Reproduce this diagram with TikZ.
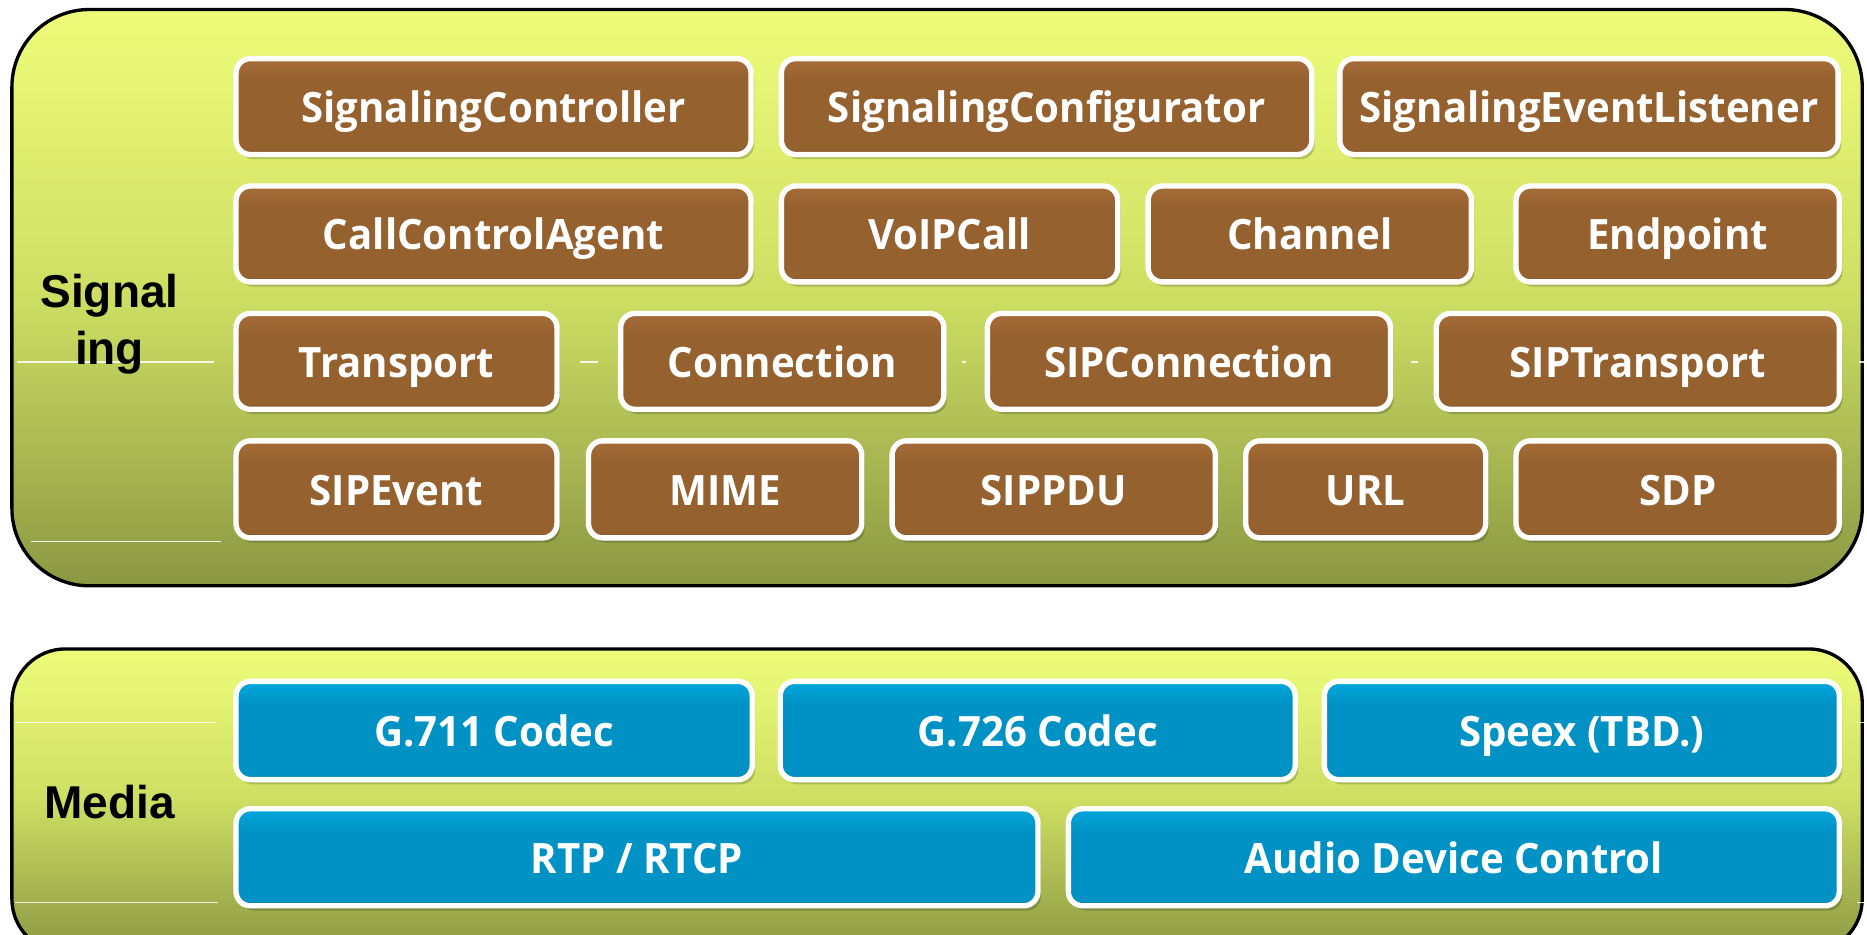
\documentclass[tikz,border=0pt]{standalone}
\usepackage{fontspec}
\setmainfont{Open Sans}
\newfontfamily\boxfont{Open Sans}[FakeStretch=0.96]
\newfontfamily\labelfont{Liberation Sans}
\usetikzlibrary{shadows}

\definecolor{brownbody}{HTML}{94612F}
\definecolor{browntop}{HTML}{A66C37}
\definecolor{brownbot}{HTML}{62401E}
\definecolor{bluebody}{HTML}{0092C4}
\definecolor{bluetop}{HTML}{00A7DE}
\definecolor{bluebot}{HTML}{005A7E}
\definecolor{olivetop}{HTML}{EEFC79}
\definecolor{olivemid}{HTML}{CDDE63}
\definecolor{olivebot}{HTML}{8B9843}

\pgfdeclareverticalshading{brownshade}{100bp}{color(0bp)=(brownbot); color(25bp)=(brownbot); color(27.5bp)=(brownbody); color(63bp)=(brownbody); color(75bp)=(browntop); color(100bp)=(browntop)}
\pgfdeclareverticalshading{blueshade}{100bp}{color(0bp)=(bluebot); color(25bp)=(bluebot); color(27.5bp)=(bluebody); color(63bp)=(bluebody); color(75bp)=(bluetop); color(100bp)=(bluetop)}

\tikzset{
  comp/.style={draw=white, line width=0.45mm, rounded corners=1.2mm, inner sep=0pt,
    text=white, font=\boxfont\bfseries\fontsize{10}{12}\selectfont, text height=2.65mm, text depth=0pt,
    drop shadow={shadow xshift=0.25mm, shadow yshift=-0.4mm, fill=black, opacity=0.18}},
  sigbox/.style={comp, shading=brownshade},
  medbox/.style={comp, shading=blueshade},
  layer/.style={draw=black, line width=0.28mm, top color=olivetop, bottom color=olivebot, middle color=olivemid},
  lbl/.style={font=\labelfont\bfseries\fontsize{11}{13.6}\selectfont, align=center, inner sep=0pt, text=black},
  artline/.style={draw=white, line width=0.1mm, opacity=0.85}
}

\newcommand\compbox[7]{\node[#1, minimum width={(#5-#3)*0.1mm-0.45mm}, minimum height={(#6-#4)*0.1mm-0.45mm}] (#2) at ({(#3+#5)/2},{(#4+#6)/2}) {#7};}

\begin{document}
\begin{tikzpicture}[x=0.1mm, y=-0.1mm]
\useasboundingbox (0,0) rectangle (1568,785);
\clip (0,0) rectangle (1568,785);

% layers
\draw[layer, rounded corners=6.5mm] (10,8) rectangle (1564,492);
\draw[layer, rounded corners=4.5mm] (10,545) rectangle (1564,800);

% faint white lines
\draw[artline] (14,304) -- (180,304);
\draw[artline] (487,304) -- (502,304);
\draw[artline] (808,304) -- (811,304);
\draw[artline] (1185,304) -- (1191,304);
\draw[artline] (1561,304) -- (1568,304);
\draw[artline] (26,455) -- (186,455);
\draw[artline] (13,607) -- (182,607);
\draw[artline] (1560,607) -- (1568,607);
\draw[artline] (13,758) -- (183,758);
\draw[artline] (1560,758) -- (1568,758);

% labels
\node[lbl] (siglabel) at (92,272) {Signal\\ing};
\node[lbl, anchor=base] (medlabel) at (92,687) {Media};

% Signaling row 1
\compbox{sigbox}{sc}{196}{47}{633}{132}{SignalingController}
\compbox{sigbox}{scfg}{654}{47}{1104}{132}{SignalingConfigurator}
\compbox{sigbox}{sel}{1123}{47}{1546}{132}{SignalingEventListener}
% row 2
\compbox{sigbox}{cca}{196}{154}{633}{239}{CallControlAgent}
\compbox{sigbox}{voip}{654}{154}{941}{239}{VoIPCall}
\compbox{sigbox}{chan}{962}{154}{1238}{239}{Channel}
\compbox{sigbox}{endp}{1271}{154}{1547}{239}{Endpoint}
% row 3
\compbox{sigbox}{trans}{196}{261}{470}{346}{Transport}
\compbox{sigbox}{conn}{519}{261}{795}{346}{Connection}
\compbox{sigbox}{sipconn}{827}{261}{1170}{346}{SIPConnection}
\compbox{sigbox}{siptrans}{1204}{261}{1547}{346}{SIPTransport}
% row 4
\compbox{sigbox}{sipev}{196}{368}{470}{454}{SIPEvent}
\compbox{sigbox}{mime}{492}{368}{726}{454}{MIME}
\compbox{sigbox}{sippdu}{747}{368}{1023}{454}{SIPPDU}
\compbox{sigbox}{url}{1044}{368}{1250}{454}{URL}
\compbox{sigbox}{sdp}{1271}{368}{1547}{454}{SDP}

% Media
\compbox{medbox}{g711}{196}{570}{634}{657}{G.711 Codec}
\compbox{medbox}{g726}{653}{570}{1090}{657}{G.726 Codec}
\compbox{medbox}{speex}{1110}{570}{1547}{657}{Speex (TBD.)}
\compbox{medbox}{rtp}{196}{677}{874}{763}{RTP / RTCP}
\compbox{medbox}{audio}{895}{677}{1547}{763}{Audio Device Control}
\end{tikzpicture}
\end{document}
